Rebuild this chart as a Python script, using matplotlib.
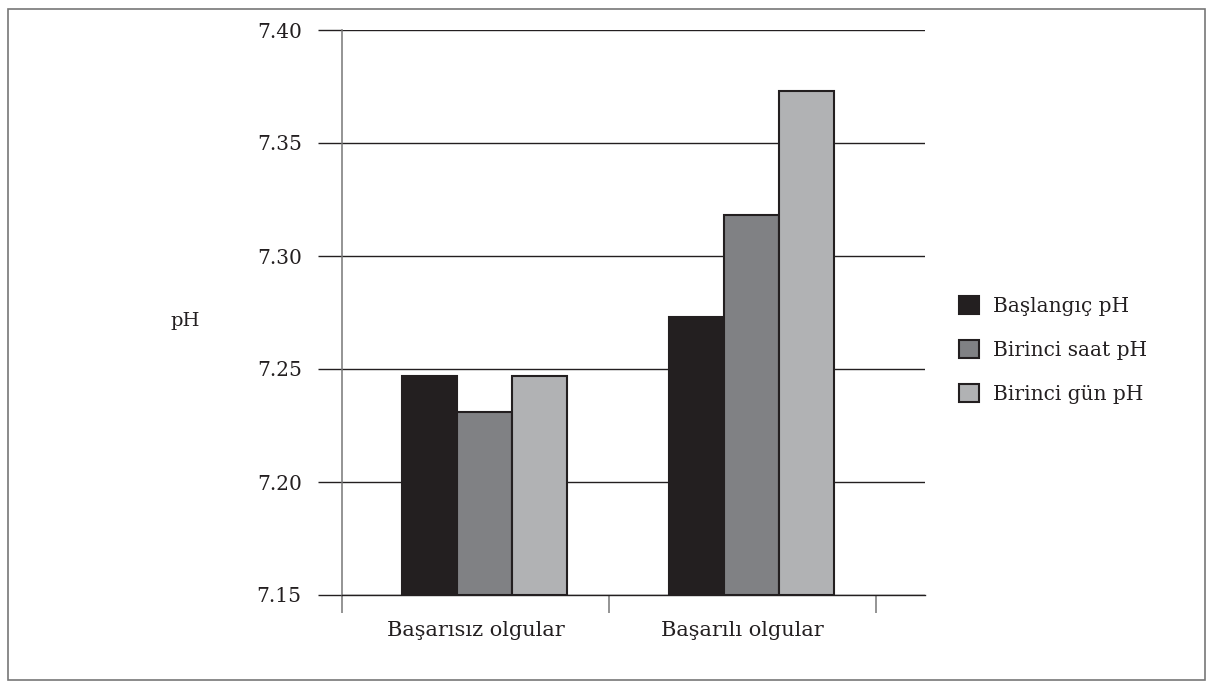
import matplotlib.pyplot as plt
from matplotlib.patches import Rectangle, Patch
import numpy as np

# data
categories = ["Başarısız olgular", "Başarılı olgular"]
series = ["Başlangıç pH", "Birinci saat pH", "Birinci gün pH"]
baslangic = [7.247, 7.273]
birinci_saat = [7.231, 7.318]
birinci_gun = [7.247, 7.373]
yticks = [7.15, 7.20, 7.25, 7.30, 7.35, 7.40]

colors = ["#231f20", "#808184", "#b1b2b4"]
edge = "#231f20"
txt = "#231f20"

plt.rcParams['font.family'] = ['DejaVu Serif']

fig = plt.figure(figsize=(12.14, 6.89), dpi=100)
ax = fig.add_axes([342 / 1214, 1 - 595 / 689, (925 - 342) / 1214, (595 - 30) / 689])

x = np.arange(len(categories))
w = 0.205
off = 0.034
for i, (vals, c) in enumerate(zip([baslangic, birinci_saat, birinci_gun], colors)):
    ax.bar(x + off + (i - 1) * w, np.array(vals) - 7.15, bottom=7.15, width=w,
           color=c, edgecolor=edge, linewidth=1.5, zorder=3)

ax.set_ylim(7.15, 7.40)
ax.set_xlim(-0.5, -0.5 + 583 / 267)
ax.set_yticks(yticks)
ax.set_yticklabels([f"{v:.2f}" for v in yticks], fontsize=14.5, color=txt)
ax.yaxis.grid(True, color=edge, linewidth=1.0, zorder=1)
ax.tick_params(axis='y', length=17, width=1.0, color=edge, pad=12, direction='out')

ax.set_xticks([-0.5, 0.5, 1.5])
ax.set_xticklabels([])
ax.set_xticks(x, minor=True)
ax.set_xticklabels(categories, minor=True, fontsize=15, color=txt)
ax.tick_params(axis='x', which='major', length=13, width=1.1, color="#777777", direction='out')
ax.tick_params(axis='x', which='minor', length=0, pad=19)

for s in ['top', 'right']:
    ax.spines[s].set_visible(False)
ax.spines['left'].set_color("#777777")
ax.spines['left'].set_linewidth(1.1)
ax.spines['bottom'].set_color(edge)
ax.spines['bottom'].set_linewidth(1.0)

fig.text(185 / 1214, 1 - 321 / 689, "pH", fontsize=14, color=txt, ha='center', va='center')

handles = [Patch(facecolor=c, edgecolor=edge, linewidth=1.5) for c in colors]
fig.legend(handles, series, loc='upper left', bbox_to_anchor=(941 / 1214, 1 - 278 / 689),
           frameon=False, fontsize=14.5, handlelength=1.0, handleheight=1.0,
           labelspacing=1.2, handletextpad=0.7, labelcolor=txt)

fig.patches.append(Rectangle((8 / 1214, 9 / 689), 1197 / 1214, 671 / 689,
                             transform=fig.transFigure, fill=False,
                             edgecolor="#777777", linewidth=1.2))

fig.savefig("out.png", dpi=100)
